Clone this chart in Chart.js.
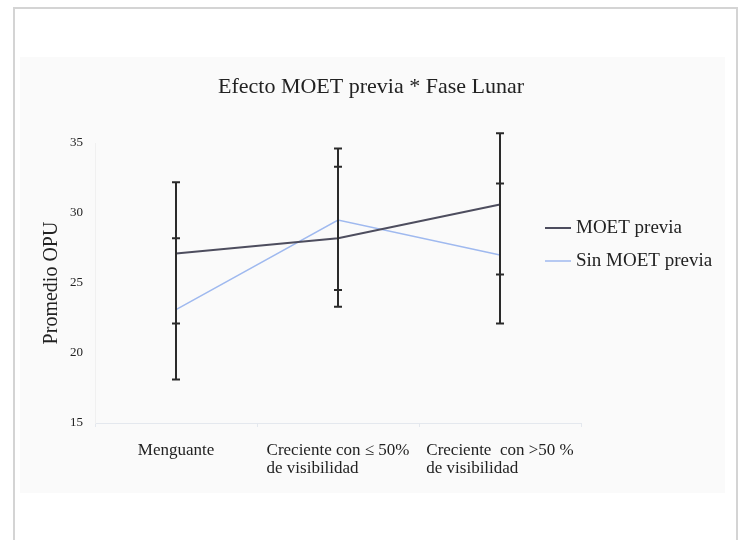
<!DOCTYPE html>
<html>
<head>
<meta charset="utf-8">
<script src="https://cdn.jsdelivr.net/npm/chart.js@4"></script>
<style>
  html, body { margin: 0; padding: 0; background: #fff; }
  .wrap { position: relative; width: 738px; height: 540px; overflow: hidden; }
  .frame { position: absolute; left: 13px; top: 7px; width: 721px; height: 540px;
           border: 2px solid #d4d4d4; border-bottom: none; }
  .panel { position: absolute; left: 20px; top: 57px; width: 705px; height: 436px; background: #fafafa; }
  canvas { position: absolute; left: 0; top: 0; }
</style>
</head>
<body>
<div class="wrap">
  <div class="frame"></div>
  <div class="panel"></div>
  <canvas id="chart" width="738" height="540"></canvas>
</div>
<script>
// categorías (fase lunar)
const categories = [
  ["Menguante"],
  ["Creciente con \u2264 50%", "de visibilidad"],
  ["Creciente  con >50 %", "de visibilidad"]
];
const seriesNames = ["MOET previa", "Sin MOET previa"];
const chartTitle = "Efecto MOET previa * Fase Lunar";

// promedios y extremos de las barras de error
const moetMean = [27.1, 28.2, 30.6];
const moetLow  = [22.1, 23.3, 25.6];
const moetHigh = [32.2, 33.3, 35.7];

const sinMean = [23.1, 29.5, 27.0];
const sinLow  = [18.1, 24.5, 22.1];
const sinHigh = [28.2, 34.6, 32.1];

const yTicks = [15, 20, 25, 30, 35];

const serif = "'Liberation Serif', 'Times New Roman', serif";
const errors = [
  { low: moetLow, high: moetHigh },
  { low: sinLow, high: sinHigh }
];

// Barras de error dibujadas con las escalas del gráfico
const errorBars = {
  id: "errorBars",
  afterDatasetsDraw(chart) {
    const { ctx, scales: { x, y } } = chart;
    ctx.save();
    ctx.strokeStyle = "#2a2a2a";
    ctx.lineWidth = 2;
    errors.forEach(err => {
      err.low.forEach((lo, i) => {
        const px = x.getPixelForValue(i);
        const yLo = y.getPixelForValue(lo);
        const yHi = y.getPixelForValue(err.high[i]);
        ctx.beginPath();
        ctx.moveTo(px, yLo); ctx.lineTo(px, yHi);
        ctx.moveTo(px - 4, yLo); ctx.lineTo(px + 4, yLo);
        ctx.moveTo(px - 4, yHi); ctx.lineTo(px + 4, yHi);
        ctx.stroke();
      });
    });
    ctx.restore();
  }
};

// Título, etiquetas del eje X y leyenda
const textLayer = {
  id: "textLayer",
  afterDraw(chart) {
    const { ctx, scales: { x }, chartArea } = chart;
    ctx.save();
    ctx.fillStyle = "#222";
    ctx.textBaseline = "middle";

    // título
    ctx.font = "22px " + serif;
    ctx.textAlign = "center";
    ctx.fillText(chartTitle, 371, 87);

    // categorías, líneas alineadas a la izquierda
    ctx.font = "17px " + serif;
    ctx.textAlign = "left";
    categories.forEach((lines, i) => {
      const w = Math.max(...lines.map(l => ctx.measureText(l).width));
      const left = x.getPixelForValue(i) - w / 2;
      lines.forEach((l, j) => ctx.fillText(l, left, chartArea.bottom + 28 + j * 18));
    });

    // leyenda
    ctx.font = "19px " + serif;
    chart.data.datasets.forEach((ds, i) => {
      const yy = 228 + i * 33;
      ctx.strokeStyle = ds.borderColor;
      ctx.lineWidth = ds.borderWidth;
      ctx.beginPath();
      ctx.moveTo(545, yy); ctx.lineTo(571, yy);
      ctx.stroke();
      ctx.fillText(ds.label, 576, yy);
    });
    ctx.restore();
  }
};

new Chart(document.getElementById("chart"), {
  type: "line",
  data: {
    labels: categories,
    datasets: [
      { label: seriesNames[0], data: moetMean, borderColor: "#4d4d5e", borderWidth: 2, pointRadius: 0, tension: 0 },
      { label: seriesNames[1], data: sinMean, borderColor: "#9fb9ef", borderWidth: 1.5, pointRadius: 0, tension: 0 }
    ]
  },
  options: {
    responsive: false,
    animation: false,
    layout: { padding: { left: 0, right: 157, top: 143, bottom: 113 } },
    plugins: {
      legend: { display: false },
      tooltip: { enabled: false },
      title: { display: false }
    },
    scales: {
      x: {
        offset: true,
        grid: { display: true, offset: true, drawOnChartArea: false, drawTicks: true, tickLength: 4, color: "#e4e8ee" },
        border: { color: "#e4e8ee" },
        ticks: { display: false }
      },
      y: {
        min: 15,
        max: 35,
        afterFit(scale) { scale.width = 95; },
        afterBuildTicks(scale) { scale.ticks = yTicks.map(v => ({ value: v })); },
        grid: { display: false, drawTicks: false },
        border: { color: "#f0f0f0" },
        title: {
          display: true,
          text: "Promedio OPU",
          color: "#222",
          font: { family: serif, size: 20 },
          padding: { top: 40, bottom: 0 }
        },
        ticks: { color: "#222", padding: 12, font: { family: serif, size: 13 } }
      }
    }
  },
  plugins: [errorBars, textLayer]
});
</script>
</body>
</html>
